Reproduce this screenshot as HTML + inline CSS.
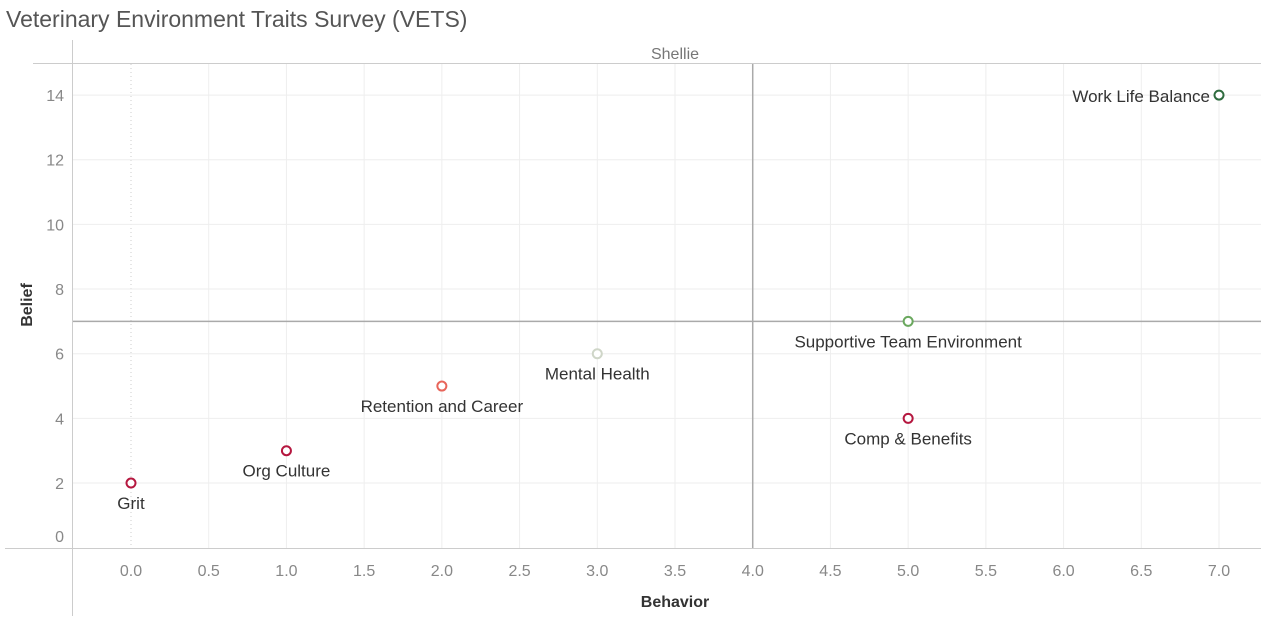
<!DOCTYPE html>
<html><head><meta charset="utf-8"><style>
body{margin:0;background:#fff;font-family:"Liberation Sans",sans-serif;}
svg text{font-family:"Liberation Sans",sans-serif;}
</style></head><body>
<svg width="1261" height="616">
<text x="6" y="27" font-size="23" fill="#555">Veterinary Environment Traits Survey (VETS)</text>
<text x="675" y="59" font-size="16" fill="#777" text-anchor="middle">Shellie</text>
<g id="grid"></g>
<line x1="33" y1="63.5" x2="1261" y2="63.5" stroke="#ccc"/>
<line x1="72.5" y1="40" x2="72.5" y2="616" stroke="#ccc"/>
<line x1="5" y1="548.5" x2="1261" y2="548.5" stroke="#ccc"/>
<g id="ticks"></g>
<g id="marks"></g>
<text x="675" y="607" font-size="16" fill="#333" font-weight="bold" text-anchor="middle">Behavior</text>
<text transform="translate(32,305) rotate(-90)" font-size="16" fill="#333" font-weight="bold" text-anchor="middle">Belief</text>
</svg>
<script>
const names=["Grit","Org Culture","Retention and Career","Mental Health","Supportive Team Environment","Comp & Benefits","Work Life Balance"];
const behavior=[0,1,2,3,5,5,7];
const belief=[2,3,5,6,7,4,14];
const colors=["#b5173f","#b5173f","#e8655a","#cfd6c8","#6aa85e","#b5173f","#2e6b3e"];
const xTicks=[0,0.5,1,1.5,2,2.5,3,3.5,4,4.5,5,5.5,6,6.5,7];
const yTicks=[0,2,4,6,8,10,12,14];
const refX=4, refY=7;
const X=v=>131+v*155.43, Y=v=>547.7-v*32.33;
const NS="http://www.w3.org/2000/svg";
function mk(t,a,p){const e=document.createElementNS(NS,t);for(const k in a)e.setAttribute(k,a[k]);document.getElementById(p).appendChild(e);return e;}
xTicks.forEach(v=>{
 const g=mk('line',{x1:X(v),x2:X(v),y1:64,y2:548,stroke:v===0?'#ccc':'#eee','stroke-dasharray':v===0?'1,3':''},'grid');
 
 
 const t=mk('text',{x:X(v),y:576,'font-size':16,fill:'#888','text-anchor':'middle'},'ticks');t.textContent=v.toFixed(1);
 
 
});
yTicks.forEach(v=>{
 if(v>0){const g=mk('line',{x1:73,x2:1261,y1:Y(v),y2:Y(v),stroke:'#eee'},'grid');
 
 }
 const t=mk('text',{x:64,y:(v===0?536:Y(v))+6,'font-size':16,fill:'#888','text-anchor':'end'},'ticks');t.textContent=v;
 
 
});
let r=mk('line',{x1:X(refX),x2:X(refX),y1:64,y2:548,stroke:'#aaa','stroke-width':1.5},'grid');


r=mk('line',{x1:73,x2:1261,y1:Y(refY),y2:Y(refY),stroke:'#aaa','stroke-width':1.5},'grid');


names.forEach((n,i)=>{
 const c=mk('circle',{cx:X(behavior[i]),cy:Y(belief[i]),r:4.5,fill:'#fff',stroke:colors[i],'stroke-width':2},'marks');
 
 
 const right=i===6;
 const t=mk('text',{x:right?X(behavior[i])-9:X(behavior[i]),y:right?Y(belief[i])+7:Y(belief[i])+26,'font-size':17,fill:'#333','text-anchor':right?'end':'middle'},'marks');
 t.textContent=n;
 
 
});
</script>
</body></html>
